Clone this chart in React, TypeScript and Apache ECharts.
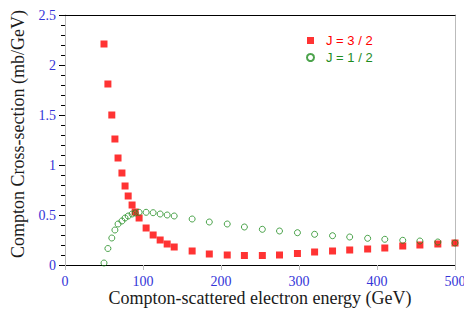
import React, { useEffect, useRef } from "react";
import * as echarts from "echarts";

const energies = [50, 55, 60, 64, 68, 73, 77, 81, 86, 90, 95, 104, 113, 122, 131, 140, 163, 185, 208, 230, 253, 275, 298, 320, 343, 365, 388, 410, 433, 455, 478, 500];
const j32 = [2.21, 1.81, 1.5, 1.26, 1.07, 0.92, 0.79, 0.69, 0.6, 0.53, 0.47, 0.37, 0.3, 0.25, 0.21, 0.18, 0.14, 0.11, 0.1, 0.095, 0.095, 0.1, 0.115, 0.13, 0.14, 0.15, 0.16, 0.17, 0.19, 0.2, 0.21, 0.22];
const j12 = [0.02, 0.165, 0.27, 0.35, 0.41, 0.44, 0.47, 0.49, 0.51, 0.52, 0.527, 0.527, 0.523, 0.51, 0.5, 0.49, 0.46, 0.43, 0.41, 0.38, 0.357, 0.34, 0.323, 0.307, 0.293, 0.28, 0.267, 0.257, 0.247, 0.24, 0.23, 0.22];
const seriesNames = ["J = 3 / 2", "J = 1 / 2"];
const xTitle = "Compton-scattered electron energy (GeV)";
const yTitle = "Compton Cross-section (mb/GeV)";

const RED = "#ff0000";
const GREEN = "#1f8c1f";
const BLUE = "#3434d8";
const SERIF = "'Liberation Serif', 'Times New Roman', serif";
const SANS = "'Liberation Sans', Arial, sans-serif";

export default function App() {
  const ref = useRef<HTMLDivElement>(null);
  useEffect(() => {
    if (!ref.current) return;
    const chart = echarts.init(ref.current, undefined, { renderer: "svg" });
    chart.setOption({
      animation: false,
      backgroundColor: "#ffffff",
      grid: { left: 65, right: 9, top: 15, bottom: 45, containLabel: false, outerBoundsMode: "none" },
      legend: {
        orient: "vertical",
        left: 301,
        top: 28,
        itemWidth: 7,
        itemHeight: 7,
        itemGap: 2,
        textStyle: { fontFamily: SANS, fontSize: 13, lineHeight: 15, padding: [0, 0, 0, 7] },
        data: [
          { name: seriesNames[0], icon: "rect", textStyle: { color: RED } },
          { name: seriesNames[1], icon: "circle", textStyle: { color: GREEN } },
        ],
      },
      xAxis: [
        {
          type: "value",
          position: "bottom",
          min: 0,
          max: 500,
          interval: 100,
          name: xTitle,
          nameLocation: "middle",
          nameGap: 24,
          nameMoveOverlap: false,
          nameTextStyle: { fontFamily: SERIF, fontSize: 18, color: "#1a1a1a", lineHeight: 18 },
          axisLine: { show: true, onZero: false, lineStyle: { color: "#000", width: 1.2 } },
          axisTick: { show: true, inside: false, length: 5, lineStyle: { color: "#bbbbbb" } },
          axisLabel: { color: BLUE, fontFamily: SERIF, fontSize: 14, margin: 9 },
          splitLine: { show: false },
        },
        {
          type: "value",
          position: "top",
          min: 0,
          max: 500,
          axisLine: { show: true, onZero: false, lineStyle: { color: "#000", width: 1.2 } },
          axisTick: { show: false },
          axisLabel: { show: false },
          splitLine: { show: false },
        },
      ],
      yAxis: [
        {
          type: "value",
          position: "left",
          min: 0,
          max: 2.5,
          interval: 0.5,
          name: yTitle,
          nameLocation: "middle",
          nameGap: 38,
          nameMoveOverlap: false,
          nameTextStyle: { fontFamily: SERIF, fontSize: 18, color: "#1a1a1a", padding: [0, 0, 0, 12] },
          axisLine: { show: true, onZero: false, lineStyle: { color: "#bbbbbb", width: 1 } },
          axisTick: { show: true, inside: false, length: 6, lineStyle: { color: "#000" } },
          minorTick: { show: true, splitNumber: 5, length: 4, lineStyle: { color: "#000" } },
          axisLabel: { color: BLUE, fontFamily: SERIF, fontSize: 14, margin: 9 },
          splitLine: { show: false },
        },
        {
          type: "value",
          position: "right",
          min: 0,
          max: 2.5,
          axisLine: { show: true, onZero: false, lineStyle: { color: "#bbbbbb", width: 1 } },
          axisTick: { show: false },
          axisLabel: { show: false },
          splitLine: { show: false },
        },
      ],
      series: [
        {
          name: seriesNames[0],
          type: "scatter",
          symbol: "rect",
          symbolSize: 7,
          itemStyle: { color: RED },
          data: energies.map((e, i) => [e, j32[i]]),
          z: 2,
        },
        {
          name: seriesNames[1],
          type: "scatter",
          symbol: "circle",
          symbolSize: 6,
          itemStyle: { color: "rgba(0,0,0,0)", borderColor: GREEN, borderWidth: 1 },
          data: energies.map((e, i) => [e, j12[i]]),
          z: 3,
        },
      ],
    });
    return () => chart.dispose();
  }, []);
  return (
    <div
      ref={ref}
      style={{ position: "fixed", left: 0, top: 0, width: 464, height: 310 }}
    />
  );
}
